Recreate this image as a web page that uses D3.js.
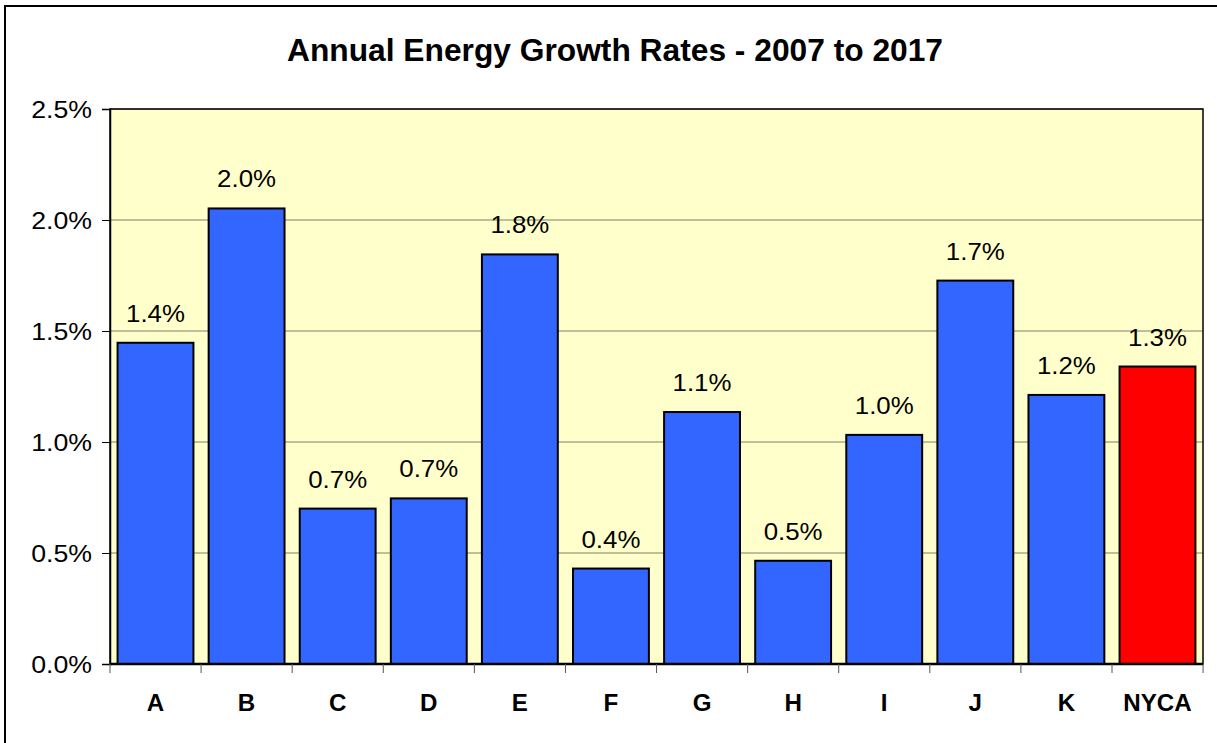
<!DOCTYPE html>
<html>
<head>
<meta charset="utf-8">
<script src="https://cdn.jsdelivr.net/npm/d3@7"></script>
<style>
  html, body { margin: 0; padding: 0; background: #fff; }
  svg { display: block; }
</style>
</head>
<body>
<div id="chart"></div>
<script>
// Data
const categories = ["A", "B", "C", "D", "E", "F", "G", "H", "I", "J", "K", "NYCA"];
const growthRates = [1.447, 2.052, 0.70, 0.746, 1.845, 0.43, 1.135, 0.465, 1.032, 1.727, 1.212, 1.34];
const valueLabels = ["1.4%", "2.0%", "0.7%", "0.7%", "1.8%", "0.4%", "1.1%", "0.5%", "1.0%", "1.7%", "1.2%", "1.3%"];
const yTicks = [0, 0.5, 1.0, 1.5, 2.0, 2.5];
const titleText = "Annual Energy Growth Rates - 2007 to 2017";

// Layout
const WIDTH = 1217, HEIGHT = 743;
const MARGIN = { top: 109, right: 14, bottom: 79, left: 110 };
const INNER_W = WIDTH - MARGIN.left - MARGIN.right;
const INNER_H = HEIGHT - MARGIN.top - MARGIN.bottom;
const FONT = "Arial, 'Liberation Sans', sans-serif";
const STRETCH = 1.16; // the original text is a bit wider than plain Arial

// widen a text selection horizontally by a factor
const stretchText = (sel, factor) => {
  sel.each(function() {
    const len = this.getComputedTextLength();
    d3.select(this)
      .attr("textLength", len * factor)
      .attr("lengthAdjust", "spacingAndGlyphs");
  });
};

const svg = d3.select("#chart").append("svg")
  .attr("width", WIDTH)
  .attr("height", HEIGHT);

// outer chart border (only left/top visible in frame)
svg.append("rect")
  .attr("x", 5).attr("y", 6)
  .attr("width", WIDTH + 20).attr("height", HEIGHT + 20)
  .attr("fill", "#fff")
  .attr("stroke", "#000")
  .attr("stroke-width", 2);

svg.append("text")
  .attr("x", 615).attr("y", 61)
  .attr("text-anchor", "middle")
  .attr("font-family", FONT)
  .attr("font-weight", "bold")
  .attr("font-size", 31)
  .attr("textLength", 656)
  .attr("lengthAdjust", "spacingAndGlyphs")
  .text(titleText);

const x = d3.scaleBand().domain(categories).range([0, INNER_W]).paddingInner(0.167).paddingOuter(0.083);
const y = d3.scaleLinear().domain([0, 2.5]).range([INNER_H, 0]);

const g = svg.append("g").attr("transform", `translate(${MARGIN.left},${MARGIN.top})`);

g.append("rect")
  .attr("width", INNER_W).attr("height", INNER_H)
  .attr("fill", "#FFFFCC");

// gridlines
g.selectAll(".grid").data(yTicks.slice(1)).enter().append("line")
  .attr("x1", 0).attr("x2", INNER_W)
  .attr("y1", d => y(d)).attr("y2", d => y(d))
  .attr("stroke", "#7f7f6a").attr("stroke-width", 1);

// plot frame
g.append("rect")
  .attr("width", INNER_W).attr("height", INNER_H)
  .attr("fill", "none")
  .attr("stroke", "#000").attr("stroke-width", 1.5);

// bars
g.selectAll(".bar").data(categories).enter().append("rect")
  .attr("x", d => x(d))
  .attr("y", (d, i) => y(growthRates[i]))
  .attr("width", x.bandwidth())
  .attr("height", (d, i) => INNER_H - y(growthRates[i]))
  .attr("fill", d => d === "NYCA" ? "#FF0000" : "#3366FF")
  .attr("stroke", "#000").attr("stroke-width", 2);

// value labels
g.selectAll(".vlabel").data(categories).enter().append("text")
  .attr("x", d => x(d) + x.bandwidth() / 2)
  .attr("y", (d, i) => y(growthRates[i]) - 21)
  .attr("text-anchor", "middle")
  .attr("font-family", FONT)
  .attr("font-size", 23.5)
  .text((d, i) => valueLabels[i])
  .call(stretchText, 1.1);

// y axis
const yAxis = g.append("g")
  .call(d3.axisLeft(y).tickValues(yTicks).tickSize(8).tickPadding(10).tickFormat(d => d3.format(".1f")(d) + "%"));
yAxis.select(".domain").attr("stroke", "#000").attr("stroke-width", 1.5);
yAxis.selectAll(".tick line").attr("stroke", "#000");
yAxis.selectAll("text")
  .attr("font-family", FONT).attr("font-size", 23).attr("fill", "#000")
  .attr("dy", "0.36em")
  .call(stretchText, STRETCH);

// x axis
const xBoundaries = d3.range(categories.length + 1).map(i => i * x.step());
const xAxisG = g.append("g").attr("transform", `translate(0,${INNER_H})`);
xAxisG.append("line").attr("x1", 0).attr("x2", INNER_W).attr("stroke", "#000").attr("stroke-width", 2.5);
xAxisG.selectAll(".xt").data(xBoundaries).enter().append("line")
  .attr("x1", d => d).attr("x2", d => d)
  .attr("y1", 0).attr("y2", 9)
  .attr("stroke", "#555").attr("stroke-width", 1);
xAxisG.selectAll(".xl").data(categories).enter().append("text")
  .attr("x", d => x(d) + x.bandwidth() / 2)
  .attr("y", 47)
  .attr("text-anchor", "middle")
  .attr("font-family", FONT)
  .attr("font-weight", "bold")
  .attr("font-size", 23)
  .text(d => d)
  .call(stretchText, 1.05);
</script>
</body>
</html>
